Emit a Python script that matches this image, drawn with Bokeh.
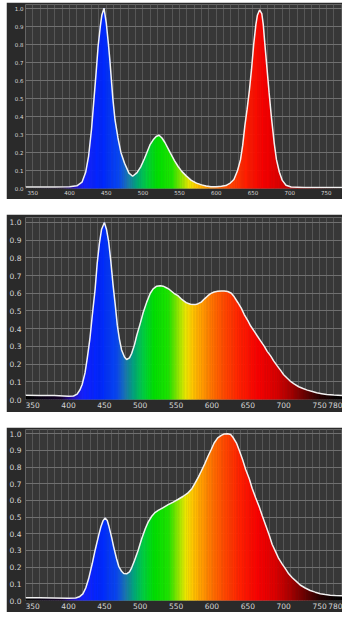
import math
from bokeh.plotting import figure
from bokeh.layouts import column, row
from bokeh.models import FixedTicker, SingleIntervalTicker, Range1d, PrintfTickFormatter, Spacer
from bokeh.embed import file_html
from bokeh.resources import INLINE

# ---------------- data ----------------
# Panel 1: RGB LED spectrum
wl1 = [340, 360, 380, 400, 410, 417, 422, 426, 430, 433,
       436, 439, 442, 444, 447, 450, 453, 455, 459, 462,
       466, 470, 475, 481, 486, 492, 497, 502, 506, 510,
       514, 518, 522, 526, 530, 537, 543, 548, 553, 559,
       566, 573, 580, 586, 593, 600, 607, 613, 619, 624,
       629, 633, 636, 639, 642, 645, 648, 651, 654, 656,
       659, 662, 664, 666, 669, 672, 675, 679, 682, 686,
       690, 695, 702, 720, 750, 772]
val1 = [0.008, 0.008, 0.008, 0.01, 0.015, 0.035, 0.09, 0.18, 0.33, 0.48,
        0.63, 0.79, 0.9, 0.96, 1.0, 0.92, 0.8, 0.71, 0.5, 0.38,
        0.28, 0.2, 0.14, 0.085, 0.068, 0.088, 0.12, 0.165, 0.205, 0.245,
        0.27, 0.288, 0.295, 0.28, 0.255, 0.2, 0.155, 0.122, 0.095, 0.07,
        0.045, 0.03, 0.02, 0.014, 0.01, 0.01, 0.012, 0.016, 0.03, 0.05,
        0.1, 0.16, 0.24, 0.35, 0.44, 0.54, 0.66, 0.8, 0.91, 0.96,
        0.99, 0.97, 0.91, 0.81, 0.67, 0.53, 0.4, 0.25, 0.16, 0.09,
        0.045, 0.018, 0.008, 0.006, 0.006, 0.006]

# Panel 2: white LED (cool) spectrum
wl2 = [340, 360, 380, 400, 407, 412, 416, 419, 423, 426,
       430, 433, 437, 440, 443, 446, 450, 453, 456, 459,
       462, 465, 468, 471, 474, 478, 481, 485, 488, 492,
       495, 500, 504, 509, 514, 518, 523, 528, 532, 537,
       541, 547, 553, 558, 564, 570, 576, 580, 585, 590,
       594, 598, 603, 608, 613, 617, 622, 627, 631, 636,
       641, 645, 650, 654, 659, 663, 668, 673, 677, 682,
       686, 691, 696, 700, 705, 709, 715, 721, 727, 733,
       740, 746, 753, 760, 770, 782]
val2 = [0.024, 0.023, 0.022, 0.018, 0.02, 0.03, 0.055, 0.085, 0.15, 0.23,
        0.35, 0.47, 0.62, 0.77, 0.88, 0.96, 1.0, 0.96, 0.89, 0.78,
        0.65, 0.54, 0.42, 0.34, 0.28, 0.24, 0.226, 0.235, 0.26, 0.31,
        0.36, 0.43, 0.49, 0.55, 0.6, 0.625, 0.64, 0.643, 0.64, 0.63,
        0.62, 0.6, 0.585, 0.565, 0.547, 0.538, 0.536, 0.54, 0.55, 0.57,
        0.585, 0.598, 0.607, 0.611, 0.613, 0.613, 0.61, 0.6, 0.58, 0.548,
        0.515, 0.48, 0.445, 0.415, 0.385, 0.36, 0.33, 0.3, 0.272, 0.245,
        0.218, 0.19, 0.163, 0.14, 0.12, 0.104, 0.087, 0.072, 0.062, 0.053,
        0.045, 0.038, 0.033, 0.028, 0.025, 0.022]

# Panel 3: white LED (warm) spectrum
wl3 = [340, 360, 380, 400, 410, 415, 420, 424, 428, 433,
       437, 442, 445, 448, 451, 454, 456, 460, 463, 467,
       470, 474, 477, 481, 485, 488, 492, 497, 502, 507,
       511, 516, 520, 525, 532, 539, 546, 553, 560, 567,
       572, 576, 581, 585, 590, 594, 599, 603, 608, 613,
       617, 622, 626, 629, 634, 638, 643, 647, 652, 656,
       661, 666, 670, 675, 680, 684, 689, 693, 698, 703,
       707, 712, 718, 723, 730, 737, 744, 751, 758, 765,
       772, 782]
val3 = [0.017, 0.016, 0.015, 0.013, 0.015, 0.022, 0.04, 0.075, 0.13, 0.22,
        0.3, 0.39, 0.44, 0.477, 0.495, 0.48, 0.45, 0.38, 0.32, 0.25,
        0.205, 0.175, 0.162, 0.16, 0.172, 0.196, 0.24, 0.3, 0.37, 0.43,
        0.47, 0.505, 0.525, 0.54, 0.557, 0.575, 0.59, 0.607, 0.625, 0.647,
        0.67, 0.7, 0.74, 0.775, 0.82, 0.86, 0.905, 0.944, 0.975, 0.99,
        0.998, 1.0, 0.995, 0.98, 0.945, 0.9, 0.84, 0.785, 0.73, 0.673,
        0.615, 0.56, 0.51, 0.45, 0.39, 0.336, 0.29, 0.252, 0.218, 0.187,
        0.16, 0.136, 0.113, 0.093, 0.075, 0.06, 0.05, 0.041, 0.036, 0.032,
        0.03, 0.028]

x_ticks = [350, 400, 450, 500, 550, 600, 650, 700, 750, 780]
y_ticks = [0.0, 0.1, 0.2, 0.3, 0.4, 0.5, 0.6, 0.7, 0.8, 0.9, 1.0]

# ---------------- styling ----------------
STOP_NM = [340, 390, 405, 420, 445, 468, 480, 492, 505, 520, 540, 553, 563,
           573, 585, 600, 618, 640, 665, 690, 710, 730, 750, 772, 790]
STOP_HEX = ["#000000", "#14002a", "#2a10b0", "#1420ff", "#0028ff", "#0a48f0",
            "#1a78b0", "#00a878", "#00d040", "#00e000", "#20e400", "#90e600",
            "#e8e800", "#ffc800", "#ffa000", "#ff7400", "#ff4800", "#ff2000",
            "#f80000", "#d80000", "#a80000", "#680000", "#2a0000", "#080000",
            "#000000"]

FRAME = "#2a2a2a"
PLOT_BG = "#373737"
FONT = "DejaVu Sans"


def hex_rgb(h):
    return tuple(int(h[i:i + 2], 16) for i in (1, 3, 5))


def spectral_color(nm):
    if nm <= STOP_NM[0]:
        return STOP_HEX[0]
    if nm >= STOP_NM[-1]:
        return STOP_HEX[-1]
    for i in range(len(STOP_NM) - 1):
        a, b = STOP_NM[i], STOP_NM[i + 1]
        if a <= nm <= b:
            t = (nm - a) / (b - a)
            c0, c1 = hex_rgb(STOP_HEX[i]), hex_rgb(STOP_HEX[i + 1])
            c = [round(c0[k] + (c1[k] - c0[k]) * t) for k in range(3)]
            return "#%02x%02x%02x" % tuple(c)
    return STOP_HEX[-1]


def panel(wl, val, height, b_left, b_top, b_bottom, x_end, y_end, fsize, standoff_x, standoff_y):
    p = figure(width=336, height=height,
               x_range=Range1d(340, x_end), y_range=Range1d(0, y_end),
               output_backend="svg", toolbar_location=None,
               min_border_left=b_left, min_border_right=0,
               min_border_top=b_top, min_border_bottom=b_bottom,
               background_fill_color=PLOT_BG, border_fill_color=FRAME,
               outline_line_color=None)
    # spectral fill: vertical slices of the area under the polyline
    xs, ys, cs = [], [], []
    for i in range(len(wl) - 1):
        x0, x1, y0, y1 = wl[i], wl[i + 1], val[i], val[i + 1]
        n = max(1, math.ceil((x1 - x0) / 2.5))
        for k in range(n):
            xa = x0 + (x1 - x0) * k / n
            xb = x0 + (x1 - x0) * (k + 1) / n
            ya = y0 + (y1 - y0) * k / n
            yb = y0 + (y1 - y0) * (k + 1) / n
            xs.append([xa, xa, xb, xb])
            ys.append([0, ya, yb, 0])
            cs.append(spectral_color((xa + xb) / 2))
    p.patches(xs, ys, fill_color=cs, line_color=cs, line_width=0.6)
    p.line(wl, val, line_color="#f2f2f2", line_width=1.5)

    p.xaxis.ticker = FixedTicker(ticks=x_ticks)
    p.yaxis.ticker = FixedTicker(ticks=y_ticks)
    p.yaxis.formatter = PrintfTickFormatter(format="%.1f")
    p.xgrid.ticker = SingleIntervalTicker(interval=10)
    p.ygrid.ticker = FixedTicker(ticks=y_ticks)
    p.xgrid.grid_line_color = "#565656"
    p.ygrid.grid_line_color = "#707070"
    p.xgrid.grid_line_width = 1
    p.ygrid.grid_line_width = 1
    for ax in (p.xaxis, p.yaxis):
        ax.axis_line_color = None
        ax.major_tick_line_color = None
        ax.minor_tick_line_color = None
        ax.major_tick_out = 0
        ax.major_tick_in = 0
        ax.major_label_text_color = "#d6d6d6"
        ax.major_label_text_font = FONT
        ax.major_label_text_font_size = fsize
    p.xaxis.major_label_standoff = standoff_x
    p.yaxis.major_label_standoff = standoff_y
    return p


p1 = panel(wl1, val1, 197, 12, 2, 11, 772, 1.02, "5.5px", 1, 2)
p2 = panel(wl2, val2, 198, 18, 3, 13, 782, 1.028, "7.5px", 2, 4)
p3 = panel(wl3, val3, 185, 18, 2, 12, 782, 1.025, "7.5px", 2, 4)

stack = column(Spacer(width=336, height=2), p1,
               Spacer(width=336, height=15), p2,
               Spacer(width=336, height=15), p3, spacing=0)
layout = row(Spacer(width=6, height=620), stack, spacing=0)
open("out.html", "w").write(file_html(layout, INLINE))
